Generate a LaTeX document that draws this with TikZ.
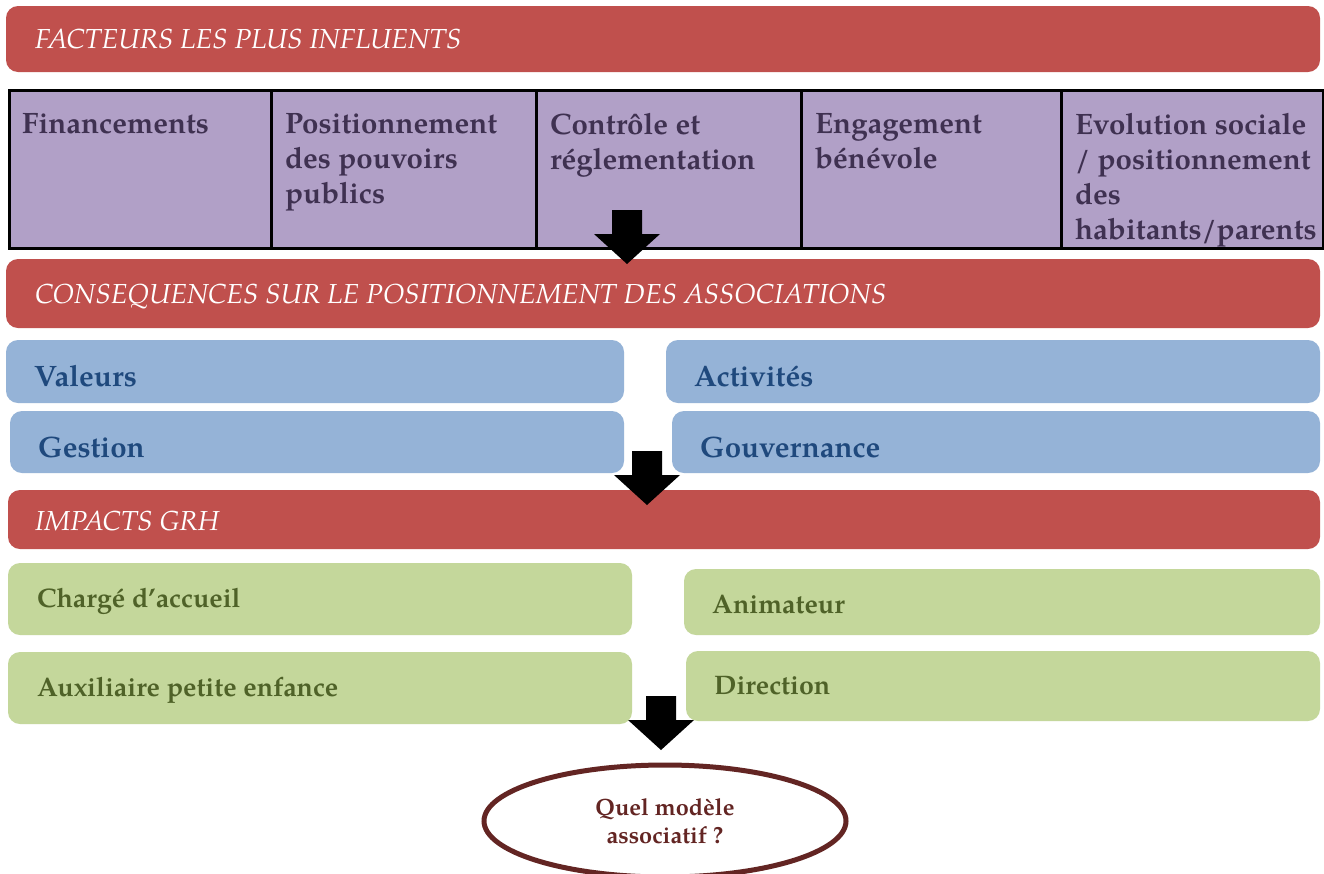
\documentclass[tikz,border=0pt]{standalone}
\usepackage{fontspec}
\setmainfont{TeX Gyre Pagella}
\usetikzlibrary{shapes.geometric}

\definecolor{barred}{HTML}{C0504D}
\definecolor{lilac}{HTML}{B1A0C7}
\definecolor{lilactext}{HTML}{3F3151}
\definecolor{skyblue}{HTML}{95B3D7}
\definecolor{navytext}{HTML}{1F497D}
\definecolor{sage}{HTML}{C4D79B}
\definecolor{olivetext}{HTML}{4F6228}
\definecolor{maroon}{HTML}{632523}

\tikzset{
  panel/.style={rectangle, rounded corners=12pt, inner sep=0pt, draw=none},
  redbar/.style={panel, fill=barred},
  bluebox/.style={panel, fill=skyblue},
  greenbox/.style={panel, fill=sage},
  cell/.style={rectangle, fill=lilac, draw=black, line width=2.5pt, inner sep=0pt, anchor=north west},
  bartext/.style={anchor=base west, inner sep=0pt, text=white, font=\fontsize{27.5}{32}\selectfont\itshape},
  celltext/.style={anchor=north west, inner sep=0pt, align=left, text=lilactext,
    font=\fontsize{29.5}{35}\selectfont\bfseries},
  bluetext/.style={anchor=base west, inner sep=0pt, text=navytext, font=\fontsize{29.5}{35}\selectfont\bfseries},
  greentext/.style={anchor=base west, inner sep=0pt, text=olivetext, font=\fontsize{26.8}{32}\selectfont\bfseries},
  question/.style={ellipse, draw=maroon, line width=5pt, fill=white, minimum width=362pt, minimum height=112pt,
    align=center, text=maroon, font=\fontsize{23.5}{28}\selectfont\bfseries},
  downarrow/.pic={\fill[black] (-15,0) -- (15,0) -- (15,24) -- (33,24) -- (0,54) -- (-33,24) -- (-15,24) -- cycle;}
}

\begin{document}
\begin{tikzpicture}[x=1pt,y=-1pt]
\clip (0,0) rectangle (1324,873);
\fill[white] (0,0) rectangle (1324,873);

% --- influential factors ---
\node[redbar, minimum width=1314pt, minimum height=66pt] (facteurs) at (663,39) {};
\node[bartext] (facteurs-t) at (35,48) {FACTEURS LES PLUS INFLUENTS};

\node[cell, minimum width=262pt, minimum height=158pt] (c1) at (8,89) {};
\node[cell, minimum width=265pt, minimum height=158pt] (c2) at (270,89) {};
\node[cell, minimum width=265pt, minimum height=158pt] (c3) at (535,89) {};
\node[cell, minimum width=260pt, minimum height=158pt] (c4) at (800,89) {};
\node[cell, minimum width=262pt, minimum height=158pt] (c5) at (1060,89) {};

\node[celltext] (c1-t) at ([xshift=14pt,yshift=-24pt]c1.north west) {Financements};
\node[celltext] (c2-t) at ([xshift=15pt,yshift=-24pt]c2.north west) {Positionnement\\des pouvoirs\\publics};
\node[celltext] (c3-t) at ([xshift=15pt,yshift=-24pt]c3.north west) {Contrôle et\\réglementation};
\node[celltext] (c4-t) at ([xshift=15pt,yshift=-24pt]c4.north west) {Engagement\\bénévole};
\node[celltext] (c5-t) at ([xshift=15pt,yshift=-24pt]c5.north west) {Evolution sociale\\/ positionnement\\des\\habitants/parents};

% --- consequences ---
\node[redbar, minimum width=1314pt, minimum height=69pt] (consequences) at (663,293.5) {};
\node[bartext] (consequences-t) at (35,303) {CONSEQUENCES SUR LE POSITIONNEMENT DES ASSOCIATIONS};

\node[bluebox, minimum width=618pt, minimum height=63pt] (valeurs) at (315,371.5) {};
\node[bluebox, minimum width=654pt, minimum height=63pt] (activites) at (993,371.5) {};
\node[bluebox, minimum width=614pt, minimum height=62pt] (gestion) at (317,442) {};
\node[bluebox, minimum width=648pt, minimum height=62pt] (gouvernance) at (996,442) {};
\node[bluetext] (valeurs-t) at (34,386) {Valeurs};
\node[bluetext] (activites-t) at (694,386) {Activités};
\node[bluetext] (gestion-t) at (38,457) {Gestion};
\node[bluetext] (gouvernance-t) at (700,457) {Gouvernance};

% --- HR impacts ---
\node[redbar, minimum width=1312pt, minimum height=59pt] (impacts) at (664,519.5) {};
\node[bartext] (impacts-t) at (35,530) {IMPACTS GRH};

\node[greenbox, minimum width=624pt, minimum height=72pt] (charge) at (320,599) {};
\node[greenbox, minimum width=636pt, minimum height=66pt] (animateur) at (1002,602) {};
\node[greenbox, minimum width=624pt, minimum height=72pt] (auxiliaire) at (320,688) {};
\node[greenbox, minimum width=634pt, minimum height=70pt] (direction) at (1003,686) {};
\node[greentext] (charge-t) at (37,607) {Chargé d’accueil};
\node[greentext] (animateur-t) at (712,613) {Animateur};
\node[greentext] (auxiliaire-t) at (37,696) {Auxiliaire petite enfance};
\node[greentext] (direction-t) at (714,694) {Direction};

% --- question ---
\node[question] (modele) at (665,821) {Quel modèle\\associatif ?};

% --- block arrows between the stages ---
\coordinate (arrow1) at (627,210);
\coordinate (arrow2) at (647,451);
\coordinate (arrow3) at (661,696);
\pic at (arrow1) {downarrow};
\pic at (arrow2) {downarrow};
\pic at (arrow3) {downarrow};
\end{tikzpicture}
\end{document}
